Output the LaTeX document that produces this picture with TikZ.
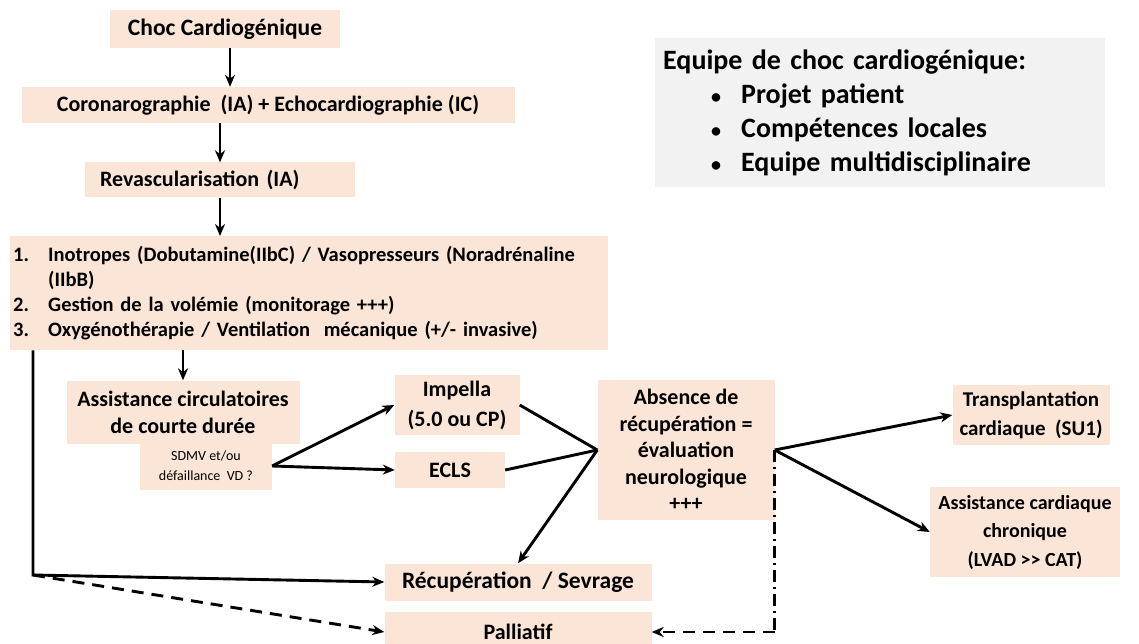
\documentclass[tikz,border=0pt]{standalone}
\usepackage{fontspec}
\setmainfont{Carlito}
\usetikzlibrary{arrows.meta}
\definecolor{peach}{HTML}{FBE5D6}
\definecolor{panelgrey}{HTML}{F2F2F2}
\tikzset{
  box/.style={fill=peach, inner sep=0pt, align=center, font=\bfseries\fontsize{22}{27}\selectfont},
  flow/.style={-{Stealth[length=12pt,width=10pt]}, line width=2.9pt},
  link/.style={line width=2.9pt},
}
\newcommand{\itemnum}[1]{\makebox[35pt][l]{#1}}
\begin{document}
\begin{tikzpicture}[x=1pt,y=-1pt]
\useasboundingbox (0,0) rectangle (1139,644);

% main column
\node[box, minimum width=230pt, minimum height=38pt, font=\bfseries\fontsize{23.5}{27}\selectfont] (choc) at (225,29) {Choc Cardiogénique};
\node[box, minimum width=493pt, minimum height=36pt] (coro) at (268,105) {Coronarographie~ (IA) + Echocardiographie (IC)};
\node[box, minimum width=270pt, minimum height=35pt, text width=240pt, inner xsep=15pt, align=left] (revasc) at (220,180) {Revascularisation (IA)};
\node[box, anchor=north west, minimum width=598pt, minimum height=114pt, text width=592pt, inner xsep=3pt, align=left, font=\bfseries\fontsize{20.5}{25}\selectfont] (list) at (10,236)
  {\itemnum{1.}\mbox{Inotropes (Dobutamine(IIbC) / Vasopresseurs (Noradrénaline}\\
   \itemnum{}(IIbB)\\
   \itemnum{2.}Gestion de la volémie (monitorage +++)\\
   \itemnum{3.}Oxygénothérapie / Ventilation~ mécanique (+/- invasive)};

% short term support
\node[box, minimum width=233pt, minimum height=63pt] (assist) at (183,412) {Assistance circulatoires\\de courte durée};
\node[box, minimum width=132pt, minimum height=47pt, font=\fontsize{14}{20}\selectfont] (sdmv) at (206,466) {SDMV et/ou\\défaillance~ VD ?};
\node[box, minimum width=125pt, minimum height=60pt, font=\bfseries\fontsize{22}{30}\selectfont] (impella) at (457,405) {Impella\\(5.0 ou CP)};
\node[box, minimum width=110pt, minimum height=36pt] (ecls) at (450,470) {ECLS};
\node[box, minimum width=177pt, minimum height=140pt, font=\bfseries\fontsize{22}{26.5}\selectfont] (absence) at (686,450) {Absence de\\récupération =\\évaluation\\neurologique\\+++};

% outcomes
\node[box, minimum width=157pt, minimum height=60pt, font=\bfseries\fontsize{21}{29}\selectfont] (transp) at (1031,415) {Transplantation\\cardiaque~ (SU1)};
\node[box, minimum width=190pt, minimum height=90pt, font=\bfseries\fontsize{20}{28.5}\selectfont] (chron) at (1025,532) {Assistance cardiaque\\chronique\\(LVAD {>}{>} CAT)};
\node[box, minimum width=267pt, minimum height=37pt, font=\bfseries\fontsize{23.5}{27}\selectfont] (recup) at (518,582) {Récupération~ / Sevrage};
\node[box, minimum width=267pt, minimum height=40pt] (pall) at (518,632) {Palliatif};

% team panel
\node[fill=panelgrey, anchor=north west, minimum width=450pt, minimum height=149pt, text width=434pt, inner xsep=8pt, align=left, font=\bfseries\fontsize{28}{34}\selectfont] (team) at (655,38)
  {Equipe de choc cardiogénique:\\
   \hspace*{48pt}\makebox[30pt][l]{\fontsize{20}{20}\selectfont•}Projet patient\\
   \hspace*{48pt}\makebox[30pt][l]{\fontsize{20}{20}\selectfont•}Compétences locales\\
   \hspace*{48pt}\makebox[30pt][l]{\fontsize{20}{20}\selectfont•}Equipe multidisciplinaire};

% connectors
\draw[flow] ([xshift=5pt]choc.south) -- ([xshift=5pt]choc.south |- coro.north);
\draw[flow] (coro.south -| revasc.north) -- (revasc.north);
\draw[flow] (revasc.south) -- (revasc.south |- list.north);
\draw[flow] (list.south -| assist.north) -- (assist.north);

\coordinate (corner) at (33,575);
\draw[flow] (list.south -| corner) -- (corner) -- (recup.west);
\draw[flow, dash pattern=on 12pt off 8pt] (corner) -- (pall.west);

\draw[flow] (sdmv.east) -- (impella.west);
\draw[flow] (sdmv.east) -- (ecls.west);
\draw[link] (impella.east) -- (absence.west);
\draw[link] (ecls.east) -- (absence.west);
\draw[flow] (absence.west) -- (recup.north);

\draw[flow] (absence.east) -- (transp.west);
\draw[flow] (absence.east) -- (chron.west);
\draw[link, dash pattern=on 12pt off 5pt on 2pt off 5pt] (absence.east) -- (absence.east |- pall.east) coordinate (turn);
\draw[flow, dash pattern=on 12pt off 8pt] (turn) -- (pall.east);
\end{tikzpicture}
\end{document}
